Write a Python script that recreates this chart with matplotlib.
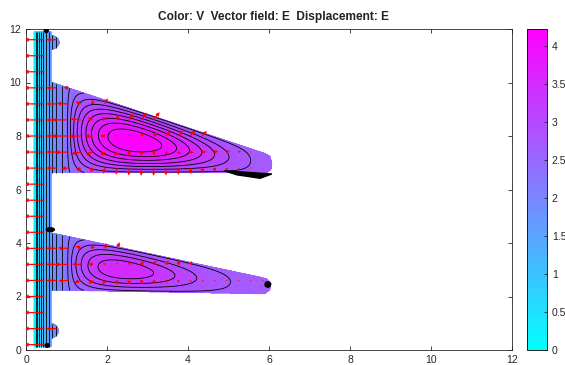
import numpy as np
import matplotlib.pyplot as plt
from matplotlib.path import Path
from matplotlib.patches import Polygon, Ellipse

plt.rcParams['font.family'] = ['Liberation Sans', 'DejaVu Sans']

# geometry (data units)
strip_x = [0.2, 0.62]
strip_y = [0.12, 11.9]
bump_centres = [(0.6, 11.5), (0.6, 0.72)]
bump_radii = [(0.22, 0.27), (0.2, 0.28)]

top_fin_x = [0.6, 5.9, 6.02, 6.07, 6.05, 5.95, 0.6]
top_fin_y = [10.03, 7.35, 7.25, 7.0, 6.75, 6.63, 6.63]
low_fin_x = [0.6, 5.8, 5.95, 6.05, 6.02, 5.9, 0.6]
low_fin_y = [4.39, 2.72, 2.65, 2.5, 2.25, 2.1, 2.24]

# potential V: level reached in the fins, decay length in the strip,
# extra height of each fin's hump, where the hump starts and where it peaks
v_edge = 2.7
v_decay = 0.45
fin_peaks = [1.52, 0.87]
hump_start = [1.0, 1.0]
hump_peak_x = [2.6, 2.3]
v_max = 4.22

# dark blobs left by the displacement
streak_x = [4.9, 6.07, 5.78, 5.2]
streak_y = [6.7, 6.58, 6.42, 6.55]
blob_centres = [(5.97, 2.45), (0.5, 11.95), (0.6, 4.5), (0.52, 0.17)]
blob_sizes = [(0.14, 0.2), (0.1, 0.16), (0.2, 0.14), (0.1, 0.14)]

cbar_ticks = [0, 0.5, 1, 1.5, 2, 2.5, 3, 3.5, 4]
axis_ticks = [0, 2, 4, 6, 8, 10, 12]

fins = [(top_fin_x, top_fin_y), (low_fin_x, low_fin_y)]


def potential(x, y):
    v = v_edge * (1 - np.exp(-np.clip(x - strip_x[0], 0, None) / v_decay))
    for (fx, fy), amp, xs, xp in zip(fins, fin_peaks, hump_start, hump_peak_x):
        ytop = np.interp(x, [fx[0], fx[1]], [fy[0], fy[1]])
        ybot = np.interp(x, [fx[-1], fx[-2]], [fy[-1], fy[-2]])
        u = (x - xs) / (fx[1] - xs)
        u0 = (xp - xs) / (fx[1] - xs)
        w = (y - ybot) / (ytop - ybot)
        inside = (u > 0) & (u < 1) & (w > 0) & (w < 1)
        b = (1 - u0) / u0
        uc = np.clip(u, 1e-6, 1 - 1e-6)
        f = (uc / u0) * ((1 - uc) / (1 - u0)) ** b
        s = np.sin(np.pi * np.clip(w, 0, 1))
        v = v + np.where(inside, amp * f * s, 0)
    return v


def in_domain(x, y):
    xr, yr = x.ravel(), y.ravel()
    m = (xr >= strip_x[0]) & (xr <= strip_x[1]) & (yr >= strip_y[0]) & (yr <= strip_y[1])
    for (cx, cy), (rx, ry) in zip(bump_centres, bump_radii):
        m |= ((xr - cx) / rx) ** 2 + ((yr - cy) / ry) ** 2 <= 1
    for fx, fy in fins:
        m |= Path(np.column_stack([fx, fy])).contains_points(np.column_stack([xr, yr]))
    return m.reshape(x.shape)


gx, gy = np.meshgrid(np.linspace(0, 6.5, 900), np.linspace(0, 12, 900))
V = np.ma.masked_where(~in_domain(gx, gy), potential(gx, gy))

fig = plt.figure(figsize=(5.65, 3.65), dpi=100)
ax = fig.add_axes([26 / 565, 15 / 365, 486 / 565, 321 / 365])
cax = fig.add_axes([527 / 565, 15 / 365, 20 / 565, 321 / 365])

mesh = ax.pcolormesh(gx, gy, V, cmap='cool', vmin=0, vmax=v_max, shading='gouraud')
ax.contour(gx, gy, V, levels=np.linspace(0, v_max, 21)[1:], colors='k', linewidths=0.6)

# field arrows E = -grad V on a coarse grid
qx, qy = np.meshgrid(np.arange(0.15, 6.5, 0.3), np.arange(0.2, 12, 0.6))
h = 0.005
ex = -(potential(qx + h, qy) - potential(qx - h, qy)) / (2 * h)
ey = -(potential(qx, qy + h) - potential(qx, qy - h)) / (2 * h)
keep = in_domain(qx, qy)
ax.quiver(qx[keep], qy[keep], ex[keep], ey[keep], color='red', angles='xy',
          scale_units='xy', scale=7, width=0.0025, headwidth=3.5, headlength=3.5,
          headaxislength=3.5, zorder=4)

ax.add_patch(Polygon(np.column_stack([streak_x, streak_y]), color='k', zorder=3))
for (cx, cy), (wx, wy) in zip(blob_centres, blob_sizes):
    ax.add_patch(Ellipse((cx, cy), wx, wy, color='k', zorder=3))

ax.set_xlim(0, 12)
ax.set_ylim(0, 12)
ax.set_xticks(axis_ticks)
ax.set_yticks(axis_ticks)
ax.tick_params(direction='in', top=True, right=True, labelsize=7.5,
               colors='#262626', length=3, width=0.6)
for sp in ax.spines.values():
    sp.set_color('#262626')
    sp.set_linewidth(0.6)

cb = fig.colorbar(mesh, cax=cax, ticks=cbar_ticks)
cb.ax.set_yticklabels([f'{t:g}' for t in cbar_ticks])
cb.ax.tick_params(direction='in', labelsize=7.5, colors='#262626', length=2, width=0.6)
cb.outline.set_linewidth(0.6)

fig.text(274 / 565, 1 - 17 / 365, 'Color: V  Vector field: E  Displacement: E',
         ha='center', va='center', fontsize=8.6, fontweight='bold', color='#222222')

fig.savefig('out.png', dpi=100)
